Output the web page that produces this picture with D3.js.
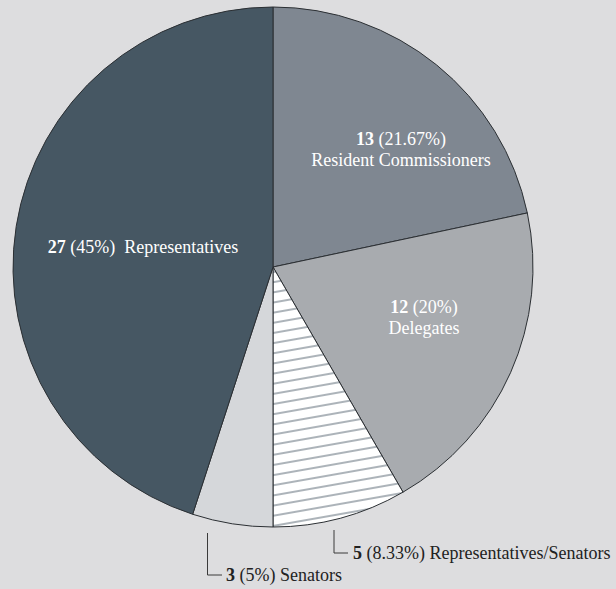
<!DOCTYPE html>
<html><head><meta charset="utf-8">
<script src="https://cdn.jsdelivr.net/npm/d3@7"></script>
<style>html,body{margin:0;padding:0;background:#dddddf;}svg{display:block;}</style>
</head><body>
<script>
const categories = ["Resident Commissioners","Delegates","Representatives/Senators","Senators","Representatives"];
const counts = [13,12,5,3,27];
const percents = ["21.67%","20%","8.33%","5%","45%"];
const colors = ["#7f8791","#a8abaf","url(#hatch)","#d5d7da","#465763"];

const W=616,H=589, cx=273, cy=267, R=260;
const svg=d3.select("body").append("svg").attr("width",W).attr("height",H);
svg.append("rect").attr("width",W).attr("height",H).attr("fill","#dddddf");
const defs=svg.append("defs");
const pat=defs.append("pattern").attr("id","hatch").attr("patternUnits","userSpaceOnUse")
  .attr("width",20).attr("height",10).attr("patternTransform","rotate(-10)");
pat.append("rect").attr("width",20).attr("height",10).attr("fill","#ffffff");
pat.append("line").attr("x1",0).attr("x2",20).attr("y1",5).attr("y2",5).attr("stroke","#465763").attr("stroke-width",0.9);

const data=categories.map((c,i)=>({cat:c,n:counts[i],p:percents[i],col:colors[i]}));
const pie=d3.pie().sort(null).value(d=>d.n);
const arc=d3.arc().innerRadius(0).outerRadius(R);
const g=svg.append("g").attr("transform",`translate(${cx},${cy})`);
const arcs=pie(data);
g.selectAll("path").data(arcs).join("path").attr("d",arc).attr("fill",d=>d.data.col)
  .attr("stroke","#2b2f33").attr("stroke-width",1);

const font="'Liberation Serif', 'Times New Roman', serif";
const fs="18px";
const inside=[
  {i:0, x:128, y:-122, two:true},
  {i:1, x:151, y:46, two:true},
  {i:4, x:-130, y:-14, two:false}
];
inside.forEach(o=>{
  const d=data[o.i];
  const t=g.append("text").attr("x",o.x).attr("y",o.y).attr("text-anchor","middle")
    .attr("fill","#ffffff").style("font-family",font).style("font-size",fs);
  if(o.two){
    t.append("tspan").attr("font-weight","bold").text(d.n);
    t.append("tspan").text(" ("+d.p+")");
    g.append("text").attr("x",o.x).attr("y",o.y+21).attr("text-anchor","middle")
      .attr("fill","#ffffff").style("font-family",font).style("font-size",fs).text(d.cat);
  } else {
    t.append("tspan").attr("font-weight","bold").text(d.n);
    t.append("tspan").text(" ("+d.p+")\u00a0\u00a0"+d.cat);
  }
});
const outside=[
  {i:2, lx:61, ly0:263, ly1:286, hx:75, tx:80, ty:292},
  {i:3, lx:-65.5, ly0:266, ly1:308, hx:-51, tx:-47, ty:314}
];
outside.forEach(o=>{
  const d=data[o.i];
  g.append("path").attr("d",`M${o.lx},${o.ly0}V${o.ly1}H${o.hx}`).attr("fill","none")
    .attr("stroke","#3a3a3a").attr("stroke-width",1);
  const t=g.append("text").attr("x",o.tx).attr("y",o.ty).attr("fill","#222")
    .style("font-family",font).style("font-size",fs);
  t.append("tspan").attr("font-weight","bold").text(d.n);
  t.append("tspan").text(" ("+d.p+") "+d.cat);
});
</script>
</body></html>
